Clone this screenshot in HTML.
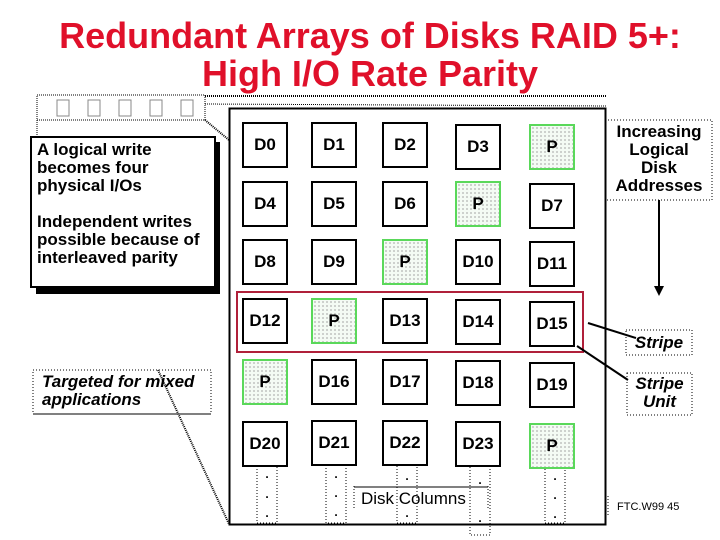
<!DOCTYPE html>
<html><head><style>
body{margin:0;width:720px;height:540px;background:#fff;position:relative;overflow:hidden;font-family:"Liberation Sans",sans-serif}
.t{position:absolute;left:10px;width:720px;text-align:center;color:#e0102a;font-weight:bold;font-size:36px;line-height:38px}
.b{position:absolute;width:42px;height:42px;border:2px solid #000;background:#fff;font-weight:bold;font-size:17px;display:flex;align-items:center;justify-content:center}
.p{border-color:#5ad85a;background-color:#f4fbf4;background-image:radial-gradient(#9a9a9a 0.6px,transparent 0.9px);background-size:4px 4px}
.a{position:absolute}
</style></head><body>
<div class="t" style="top:17px">Redundant Arrays of Disks RAID 5+:</div>
<div class="t" style="top:55px">High I/O Rate Parity</div>

<svg class="a" style="left:0;top:0" width="720" height="540">
<rect x="37" y="95" width="168" height="25" fill="none" stroke="#000" stroke-dasharray="1,1"/>
<g fill="none" stroke="#888"><rect x="57" y="100" width="12" height="16"/><rect x="88" y="100" width="12" height="16"/><rect x="119" y="100" width="12" height="16"/><rect x="150" y="100" width="12" height="16"/><rect x="181" y="100" width="12" height="16"/></g>
<line x1="205" y1="96" x2="606" y2="96" stroke="#000" stroke-dasharray="1,1" stroke-width="2"/>
<line x1="205" y1="104" x2="606" y2="106" stroke="#000" stroke-dasharray="1,1"/>
<line x1="205" y1="120" x2="229" y2="140" stroke="#000" stroke-dasharray="1,1" stroke-width="2"/>
<line x1="37" y1="120" x2="37" y2="136" stroke="#000" stroke-dasharray="1,1"/>
<line x1="158" y1="370" x2="229" y2="524" stroke="#000" stroke-dasharray="1,1" stroke-width="2"/>
<rect x="229.5" y="108.5" width="376" height="416" fill="none" stroke="#000" stroke-width="2"/>
<rect x="237" y="292" width="346" height="60" fill="none" stroke="#b0203a" stroke-width="2"/>
<line x1="659" y1="200" x2="659" y2="288" stroke="#000" stroke-width="2"/>
<polygon points="654,286 664,286 659,296" fill="#000"/>
<line x1="588" y1="323" x2="636" y2="338" stroke="#000" stroke-width="2"/>
<line x1="577" y1="346" x2="628" y2="380" stroke="#000" stroke-width="2"/>
<g fill="none" stroke="#000" stroke-dasharray="1,2">
<rect x="257" y="463" width="20" height="60"/><rect x="326" y="461" width="20" height="62"/><rect x="397" y="463" width="20" height="60"/><rect x="470" y="465" width="20" height="70"/><rect x="545" y="463" width="20" height="60"/>
<rect x="605" y="120" width="107" height="80"/><rect x="626" y="330" width="66" height="25"/><rect x="627" y="373" width="65" height="42"/><rect x="33" y="370" width="178" height="44"/>
<line x1="354" y1="486" x2="354" y2="510"/><line x1="488" y1="486" x2="488" y2="510"/><line x1="608" y1="496" x2="608" y2="516"/>
</g>
<line x1="354" y1="487" x2="488" y2="487" stroke="#000"/>
<line x1="33" y1="414" x2="211" y2="414" stroke="#000"/>
<g font-size="12" font-weight="bold" text-anchor="middle"><text x="267" y="478">.</text><text x="267" y="498">.</text><text x="267" y="517">.</text><text x="336" y="478">.</text><text x="336" y="497">.</text><text x="336" y="516">.</text><text x="407" y="480">.</text><text x="407" y="517">.</text><text x="480" y="484">.</text><text x="480" y="522">.</text><text x="555" y="480">.</text><text x="555" y="499">.</text><text x="555" y="518">.</text></g>
</svg>

<div class="a" style="left:36px;top:142px;width:184px;height:152px;background:#000"></div>
<div class="a" style="left:30px;top:136px;width:186px;height:152px;border:2px solid #000;background:#fff;font-weight:bold;font-size:17px;line-height:18px;padding:3px 0 0 5px;box-sizing:border-box;white-space:nowrap">A logical write<br>becomes four<br>physical I/Os<br><div style="height:18px"></div>Independent writes<br>possible because of<br>interleaved parity</div>
<div class="a" style="left:42px;top:373px;font-style:italic;font-weight:bold;font-size:17px;line-height:18px">Targeted for mixed<br>applications</div>
<div class="a" style="left:603px;top:123px;width:112px;text-align:center;font-weight:bold;font-size:17px;line-height:18px">Increasing<br>Logical<br>Disk<br>Addresses</div>
<div class="a" style="left:626px;top:333px;width:66px;text-align:center;font-style:italic;font-weight:bold;font-size:17px">Stripe</div>
<div class="a" style="left:627px;top:375px;width:65px;text-align:center;font-style:italic;font-weight:bold;font-size:17px;line-height:18px">Stripe<br>Unit</div>
<div class="a" style="left:361px;top:489px;font-size:17px">Disk Columns</div>
<div class="a" style="left:617px;top:501px;font-size:11px">FTC.W99 45</div>

<div class="b" style="left:242px;top:122px">D0</div><div class="b" style="left:311px;top:122px">D1</div><div class="b" style="left:382px;top:122px">D2</div><div class="b" style="left:455px;top:124px">D3</div><div class="b p" style="left:529px;top:124px">P</div>
<div class="b" style="left:242px;top:181px">D4</div><div class="b" style="left:311px;top:181px">D5</div><div class="b" style="left:382px;top:181px">D6</div><div class="b p" style="left:455px;top:181px">P</div><div class="b" style="left:529px;top:183px">D7</div>
<div class="b" style="left:242px;top:239px">D8</div><div class="b" style="left:311px;top:239px">D9</div><div class="b p" style="left:382px;top:239px">P</div><div class="b" style="left:455px;top:239px">D10</div><div class="b" style="left:529px;top:241px">D11</div>
<div class="b" style="left:242px;top:298px">D12</div><div class="b p" style="left:311px;top:298px">P</div><div class="b" style="left:382px;top:298px">D13</div><div class="b" style="left:455px;top:299px">D14</div><div class="b" style="left:529px;top:301px">D15</div>
<div class="b p" style="left:242px;top:359px">P</div><div class="b" style="left:311px;top:359px">D16</div><div class="b" style="left:382px;top:359px">D17</div><div class="b" style="left:455px;top:360px">D18</div><div class="b" style="left:529px;top:362px">D19</div>
<div class="b" style="left:242px;top:421px">D20</div><div class="b" style="left:311px;top:420px">D21</div><div class="b" style="left:382px;top:420px">D22</div><div class="b" style="left:455px;top:421px">D23</div><div class="b p" style="left:529px;top:423px">P</div>
</body></html>
